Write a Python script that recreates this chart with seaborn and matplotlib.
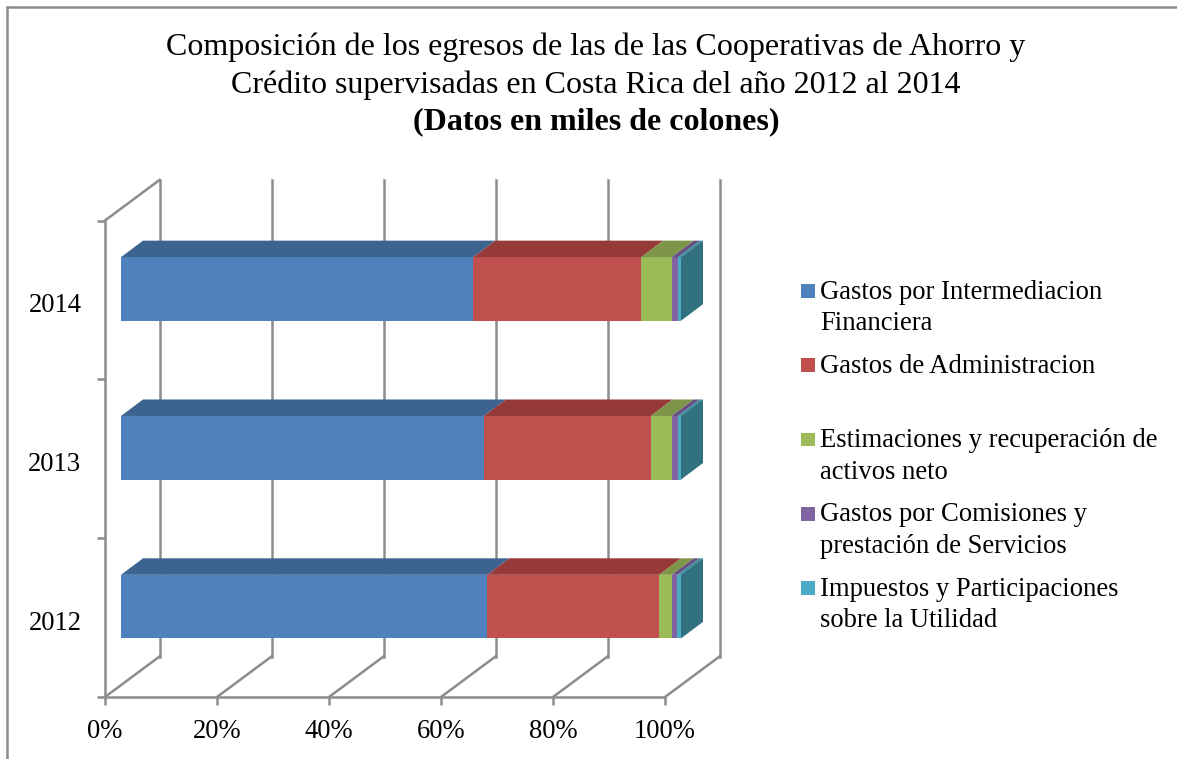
import numpy as np
import pandas as pd
import matplotlib
matplotlib.use("Agg")
import matplotlib.pyplot as plt
from matplotlib.patches import Polygon, Rectangle
from matplotlib.lines import Line2D
from matplotlib.legend_handler import HandlerPatch
from matplotlib.transforms import offset_copy, ScaledTranslation
import seaborn as sns

years = ["2014", "2013", "2012"]
series_names = [
    "Gastos por Intermediacion\nFinanciera",
    "Gastos de Administracion\n ",
    "Estimaciones y recuperación de\nactivos neto",
    "Gastos por Comisiones y\nprestación de Servicios",
    "Impuestos y Participaciones\nsobre la Utilidad",
]
intermediacion = [62.9, 64.8, 65.4]
administracion = [30.0, 29.8, 30.7]
estimaciones = [5.45, 3.75, 2.25]
comisiones = [1.1, 1.05, 1.0]
impuestos = [0.55, 0.6, 0.65]
front_colors = ["#4F81BD", "#C0504D", "#9BBB59", "#8064A2", "#4BACC6"]
top_colors = ["#3D6491", "#953A38", "#7C9547", "#665082", "#3B8CA1"]
side_color = "#31707F"
grid_color = "#8C8C8C"
title_lines = [
    "Composición de los egresos de las de las Cooperativas de Ahorro y",
    "Crédito supervisadas en Costa Rica del año 2012 al 2014",
]
title_bold = "(Datos en miles de colones)"

W, H = 1177, 759
sns.set_theme(style="white")
plt.rcParams["font.family"] = ["Liberation Serif", "DejaVu Serif"]
plt.rcParams["text.color"] = "black"
FS = 19.2
TITLE_FS = 23

fig = plt.figure(figsize=(W / 100, H / 100), dpi=100)
left, right, top, bottom = 105, 665, 220.5, 697
ax = fig.add_axes([left / W, 1 - bottom / H, (right - left) / W, (bottom - top) / H])
ax.patch.set_alpha(0)

values = pd.DataFrame(
    [intermediacion, administracion, estimaciones, comisiones, impuestos],
    columns=years,
    index=range(5),
)
cum = values.cumsum()
bar_w = 0.40

# front offset of bars within the plot box, in pixels
fx, fy = 16, 11
# depth of the bar itself
dx, dy = 22, 16.5
# depth of the floor / walls
wx, wy = 54.5, 40.5
front = offset_copy(ax.transData, fig=fig, x=fx, y=fy, units="dots")

for i in range(4, -1, -1):
    frame = pd.DataFrame({"year": years, "v": cum.loc[i].values})
    sns.barplot(
        data=frame, x="v", y="year", order=years, orient="h", ax=ax,
        color=front_colors[i], saturation=1, width=bar_w, linewidth=0,
        zorder=3, legend=False,
    )
for p in ax.patches:
    p.set_transform(front)
    p.set_clip_on(False)

ax.set_xlim(0, 100)
ax.set_ylim(2.5, -0.5)

# data-units per pixel
ux = 100 / (right - left)
uy = 3 / (bottom - top)

# top faces and the side face
for yi in range(3):
    for i in range(5):
        x0 = 0 if i == 0 else cum.loc[i - 1].values[yi]
        x1 = cum.loc[i].values[yi]
        ytop = yi - bar_w / 2
        verts = [
            (x0, ytop), (x1, ytop),
            (x1 + dx * ux, ytop - dy * uy), (x0 + dx * ux, ytop - dy * uy),
        ]
        ax.add_patch(Polygon(verts, closed=True, facecolor=top_colors[i], edgecolor="none",
                             transform=front, clip_on=False, zorder=4))
    x1 = cum.loc[4].values[yi]
    ybot = yi + bar_w / 2
    ytop = yi - bar_w / 2
    verts = [
        (x1, ytop), (x1 + dx * ux, ytop - dy * uy),
        (x1 + dx * ux, ybot - dy * uy), (x1, ybot),
    ]
    ax.add_patch(Polygon(verts, closed=True, facecolor=side_color, edgecolor="none",
                         transform=front, clip_on=False, zorder=4))

# walls and floor
xt = np.arange(0, 101, 20)
line_kw = dict(color=grid_color, lw=1.8, clip_on=False, zorder=1, solid_capstyle="projecting")
for x in xt:
    ax.plot([x, x + wx * ux], [2.5, 2.5 - wy * uy], **line_kw)
    ax.plot([x + wx * ux, x + wx * ux], [2.5 - wy * uy, -0.5 - wy * uy], **line_kw)
ax.plot([0, 100], [2.5, 2.5], **line_kw)
ax.plot([0, 0], [2.5, -0.5], **line_kw)
ax.plot([0, wx * ux], [-0.5, -0.5 - wy * uy], **line_kw)

sns.despine(ax=ax, left=True, bottom=True, top=True, right=True)
ax.set_xlabel("")
ax.set_ylabel("")
ax.set_xticks(xt)
ax.set_xticklabels([f"{v}%" for v in xt])
ax.set_yticks([0, 1, 2])
ax.set_yticklabels(years)
ax.set_yticks([-0.5, 0.5, 1.5, 2.5], minor=True)
ax.tick_params(axis="x", which="major", length=5.8, width=1.8, color=grid_color,
               bottom=True, labelsize=FS, pad=10, labelcolor="black")
ax.tick_params(axis="y", which="major", length=0, labelsize=FS, pad=17, labelcolor="black")
ax.tick_params(axis="y", which="minor", length=5.8, width=1.8, color=grid_color, left=True)
for t in ax.get_yticklabels():
    t.set_transform(t.get_transform() + ScaledTranslation(0, -3 / 100, fig.dpi_scale_trans))

# title
fig.text(596 / W, 1 - 47 / H, title_lines[0], ha="center", va="center", fontsize=TITLE_FS)
fig.text(596 / W, 1 - 85 / H, title_lines[1], ha="center", va="center", fontsize=TITLE_FS)
fig.text(596 / W, 1 - 122 / H, title_bold, ha="center", va="center", fontsize=TITLE_FS, fontweight="bold")

# legend
class TopHandler(HandlerPatch):
    def __init__(self, shift):
        super().__init__()
        self.shift = shift

    def create_artists(self, legend, orig_handle, xdescent, ydescent, width, height, fontsize, trans):
        r = Rectangle((0, self.shift), 10, 10, facecolor=orig_handle.get_facecolor(),
                      edgecolor="none", transform=trans)
        return [r]

handles = [Rectangle((0, 0), 1, 1, facecolor=c) for c in front_colors]
leg = fig.legend(
    handles, series_names, loc="upper left", bbox_to_anchor=(801 / W, 1 - 280 / H),
    frameon=False, fontsize=FS, labelspacing=0.67, handlelength=0.55, handleheight=1.0,
    handletextpad=0.16, borderpad=0, borderaxespad=0,
    handler_map={h: TopHandler(14) for h in handles},
)
for t in leg.get_texts():
    t.set_linespacing(1.33)

# outer frame
fig.add_artist(Line2D([6.5 / W, 6.5 / W], [0, 1 - 6.5 / H], transform=fig.transFigure, color=grid_color, lw=1.8))
fig.add_artist(Line2D([6.5 / W, 1], [1 - 6.5 / H, 1 - 6.5 / H], transform=fig.transFigure, color=grid_color, lw=1.8))

fig.savefig("out.png", dpi=100)
